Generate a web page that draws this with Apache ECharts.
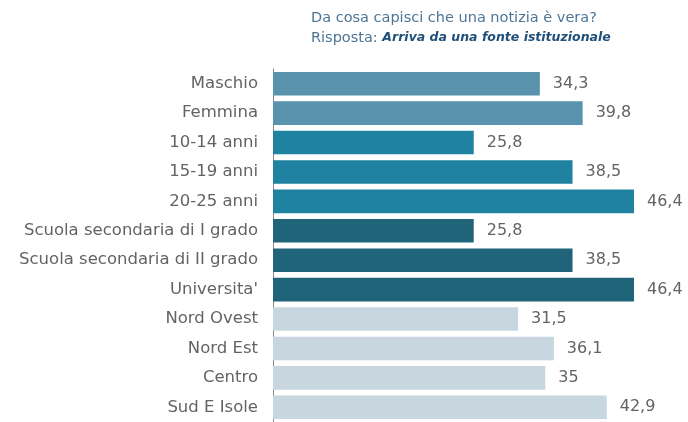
<!DOCTYPE html>
<html>
<head>
<meta charset="utf-8">
<script src="https://cdn.jsdelivr.net/npm/echarts@6/dist/echarts.min.js"></script>
<style>
  html, body { margin: 0; padding: 0; background: #fff; }
  #chart { width: 688px; height: 422px; }
</style>
</head>
<body>
<div id="chart"></div>
<script>
const categories = [
  'Maschio', 'Femmina', '10-14 anni', '15-19 anni', '20-25 anni',
  'Scuola secondaria di I grado', 'Scuola secondaria di II grado', "Universita'",
  'Nord Ovest', 'Nord Est', 'Centro', 'Sud E Isole'
];
const values = [34.3, 39.8, 25.8, 38.5, 46.4, 25.8, 38.5, 46.4, 31.5, 36.1, 35, 42.9];
// colore per gruppo: genere, eta, scuola, area
const groupColors = ['#5a93ad', '#1f82a0', '#1f6479', '#c8d6df'];
const groupOf = [0, 0, 1, 1, 1, 2, 2, 2, 3, 3, 3, 3];

const chart = echarts.init(document.getElementById('chart'));
const textColor = '#636363';
const font = '"DejaVu Sans", sans-serif';

chart.setOption({
  animation: false,
  title: {
    left: 306,
    top: 3,
    text: '{a|Da cosa capisci che una notizia è vera?}\n{a|Risposta: }{b|Arriva da una fonte istituzionale}',
    textStyle: {
      fontFamily: font,
      fontWeight: 'normal',
      rich: {
        a: { fontFamily: font, fontSize: 14.5, color: '#4d7596', lineHeight: 20 },
        b: { fontFamily: font, fontSize: 12.5, color: '#1f4e7a', fontWeight: 'bold', fontStyle: 'italic', lineHeight: 20 }
      }
    }
  },
  grid: { left: 273, right: 26, top: 69, bottom: -3, containLabel: false },
  xAxis: {
    type: 'value',
    min: 0,
    max: 50,
    show: false
  },
  yAxis: {
    type: 'category',
    inverse: true,
    data: categories,
    axisLine: { show: true, lineStyle: { color: '#888', width: 1 } },
    axisTick: { show: false },
    axisLabel: { color: textColor, fontSize: 16.5, fontFamily: font, margin: 15 }
  },
  series: [{
    type: 'bar',
    barCategoryGap: '20%',
    data: values.map((v, i) => ({ value: v, itemStyle: { color: groupColors[groupOf[i]] } })),
    label: {
      show: true,
      position: 'right',
      distance: 13,
      color: textColor,
      fontSize: 16,
      fontFamily: font,
      formatter: p => String(p.value).replace('.', ',')
    }
  }]
});
</script>
</body>
</html>
